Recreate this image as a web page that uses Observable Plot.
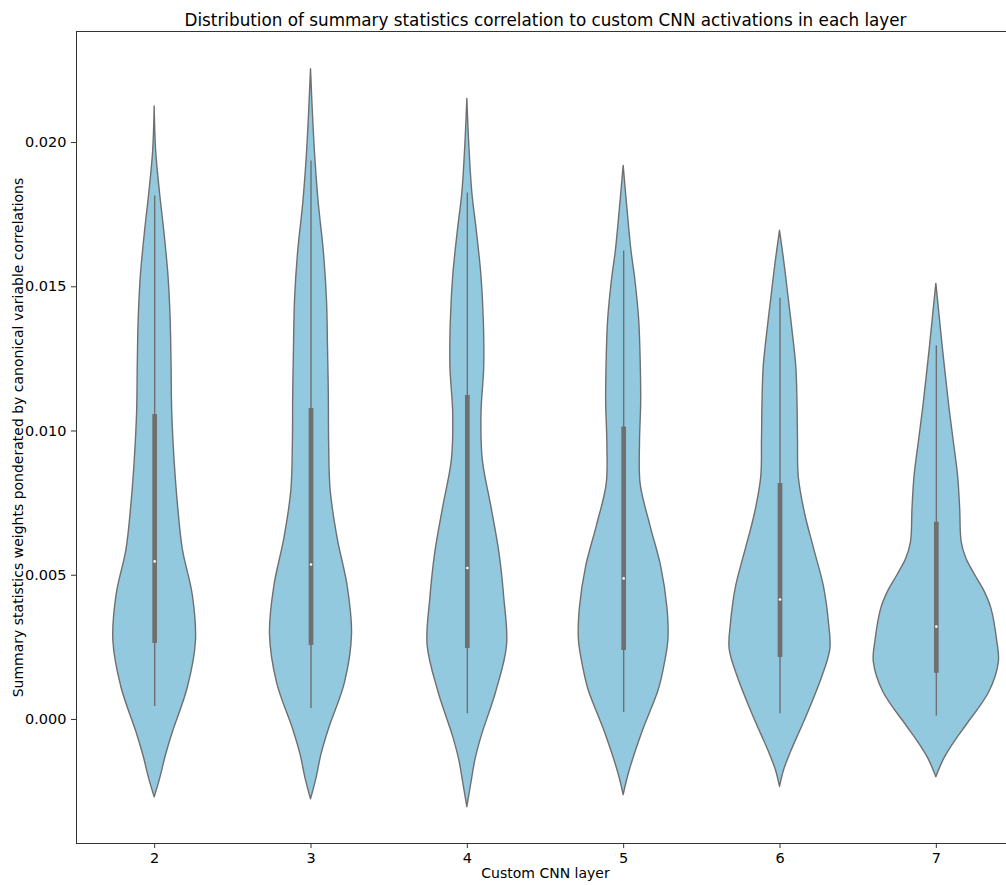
<!DOCTYPE html>
<html>
<head>
<meta charset="utf-8">
<script src="https://cdn.jsdelivr.net/npm/d3@7"></script>
<script src="https://cdn.jsdelivr.net/npm/@observablehq/plot@0.6"></script>
<style>
  body { margin: 0; background: #fff; }
  #chart svg { font-family: "DejaVu Sans", sans-serif; display: block; }
</style>
</head>
<body>
<div id="chart"></div>
<script>
// Custom CNN layers on the x axis
const layers = [2, 3, 4, 5, 6, 7];

// Density outline of each layer's weights: [weight value, relative density]
const density2 = [[0.02125,0],[0.0197,0.024],[0.0182,0.088],[0.0170,0.15],[0.0154,0.22],[0.0139,0.255],[0.0123,0.27],[0.0107,0.28],[0.0091,0.315],[0.0075,0.37],[0.0059,0.45],[0.0043,0.61],[0.0027,0.66],[0.0011,0.53],[-0.00045,0.29],[-0.00125,0.18],[-0.00205,0.088],[-0.0027,0]];
const density3 = [[0.02254,0],[0.02094,0.032],[0.01936,0.072],[0.01787,0.125],[0.01622,0.205],[0.01456,0.255],[0.01289,0.272],[0.01123,0.285],[0.00957,0.29],[0.00792,0.315],[0.00626,0.427],[0.00461,0.587],[0.00295,0.656],[0.00128,0.544],[-0.00038,0.28],[-0.00121,0.168],[-0.00204,0.088],[-0.00277,0]];
const density4 = [[0.02151,0],[0.0199,0.032],[0.01825,0.08],[0.017,0.148],[0.01539,0.225],[0.0138,0.264],[0.0122,0.27],[0.01059,0.226],[0.00898,0.248],[0.00738,0.384],[0.00579,0.512],[0.00418,0.592],[0.00256,0.635],[0.00097,0.464],[-0.00062,0.224],[-0.00142,0.128],[-0.00222,0.064],[-0.00304,0]];
const density5 = [[0.01919,0],[0.01771,0.06],[0.01624,0.125],[0.01527,0.185],[0.01385,0.248],[0.01242,0.272],[0.011,0.28],[0.00957,0.261],[0.00815,0.272],[0.00672,0.427],[0.0053,0.6],[0.00386,0.7],[0.00274,0.715],[0.00173,0.64],[0.00101,0.56],[-0.00042,0.304],[-0.00184,0.088],[-0.00262,0]];
const density6 = [[0.01694,0],[0.01584,0.07],[0.01476,0.13],[0.01348,0.2],[0.01221,0.261],[0.01095,0.28],[0.00967,0.288],[0.0084,0.3],[0.00714,0.4],[0.00586,0.552],[0.00459,0.704],[0.00333,0.784],[0.00243,0.805],[0.00142,0.667],[0.00014,0.432],[-0.00113,0.176],[-0.00177,0.064],[-0.00234,0]];
const density7 = [[0.0151,0],[0.01404,0.05],[0.01296,0.1],[0.01192,0.152],[0.01078,0.211],[0.00961,0.28],[0.00846,0.347],[0.00731,0.381],[0.00615,0.405],[0.00558,0.48],[0.00499,0.624],[0.00444,0.77],[0.00385,0.88],[0.00268,0.976],[0.00199,1.0],[0.00095,0.848],[-0.00021,0.48],[-0.00079,0.29],[-0.00136,0.128],[-0.002,0]];

// Box statistics per layer
const q1          = [0.00263, 0.00256, 0.00246, 0.00239, 0.00215, 0.00160];
const median      = [0.00548, 0.00537, 0.00525, 0.00489, 0.00416, 0.00322];
const q3          = [0.01057, 0.01078, 0.01123, 0.01014, 0.00818, 0.00684];
const whiskerLow  = [0.00045, 0.00038, 0.00020, 0.00024, 0.00020, 0.00011];
const whiskerHigh = [0.01815, 0.01936, 0.01825, 0.01624, 0.01460, 0.01296];

const yTicks = [0, 0.005, 0.010, 0.015, 0.020];

const titleText = "Distribution of summary statistics correlation to custom CNN activations in each layer";
const xLabel = "Custom CNN layer";
const yLabel = "Summary statistics weights ponderated by canonical variable correlations";

// Build tidy tables for the marks
const densities = [density2, density3, density4, density5, density6, density7];
const violinRows = [];
layers.forEach((layer, i) => {
  for (const [value, density] of densities[i]) violinRows.push({layer, value, density});
});
const stats = layers.map((layer, i) => ({
  layer, q1: q1[i], median: median[i], q3: q3[i], lo: whiskerLow[i], hi: whiskerHigh[i]
}));

const halfWidth = 0.4;       // widest violin spans 0.8 of a category
const fillColor = "#93c9de";
const lineColor = "#6f6f6f";
const yDomain = [-0.0043, 0.02385];

const chart = Plot.plot({
  width: 1006,
  height: 885,
  marginTop: 31,
  marginBottom: 42,
  marginLeft: 76,
  marginRight: 0,
  style: {fontFamily: "DejaVu Sans, sans-serif", background: "#fff", color: "#000"},
  x: {type: "linear", domain: [1.5, 7.5], range: [76, 1014]},
  y: {domain: yDomain},
  marks: [
    Plot.areaX(violinRows, {
      y: "value",
      x1: d => d.layer - halfWidth * d.density,
      x2: d => d.layer + halfWidth * d.density,
      z: "layer",
      fill: fillColor,
      stroke: lineColor,
      strokeWidth: 1.4,
      curve: "catmull-rom"
    }),
    Plot.ruleX(stats, {x: "layer", y1: "lo", y2: "hi", stroke: lineColor, strokeWidth: 1.4}),
    Plot.ruleX(stats, {x: "layer", y1: "q1", y2: "q3", stroke: lineColor, strokeWidth: 4.7}),
    Plot.dot(stats, {x: "layer", y: "median", r: 1.3, fill: "white", stroke: "none"}),
    // axes frame: left, top and bottom spines
    Plot.ruleX([1.5], {stroke: "#333", strokeWidth: 1}),
    Plot.ruleY([yDomain[0]], {stroke: "#333", strokeWidth: 1}),
    Plot.ruleY([yDomain[1]], {stroke: "#333", strokeWidth: 1}),
    Plot.axisX({ticks: layers, tickFormat: "d", tickSize: 5, tickPadding: 4, label: null, fontSize: 14.5, stroke: "#333"}),
    Plot.axisY({ticks: yTicks, tickFormat: ".3f", tickSize: 5, tickPadding: 5, label: null, fontSize: 14.5, stroke: "#333"}),
    Plot.text([xLabel], {x: 4.5, frameAnchor: "bottom", dy: 30, textAnchor: "middle", lineAnchor: "middle", fontSize: 14, fill: "#000"}),
    Plot.text([yLabel], {frameAnchor: "left", dx: -58, rotate: -90, textAnchor: "middle", lineAnchor: "middle", fontSize: 14, fill: "#000"}),
    Plot.text([titleText], {x: 4.5, frameAnchor: "top", dy: -11, textAnchor: "middle", lineAnchor: "middle", fontSize: 16.8, fill: "#000"})
  ]
});

document.getElementById("chart").appendChild(chart);
</script>
</body>
</html>
